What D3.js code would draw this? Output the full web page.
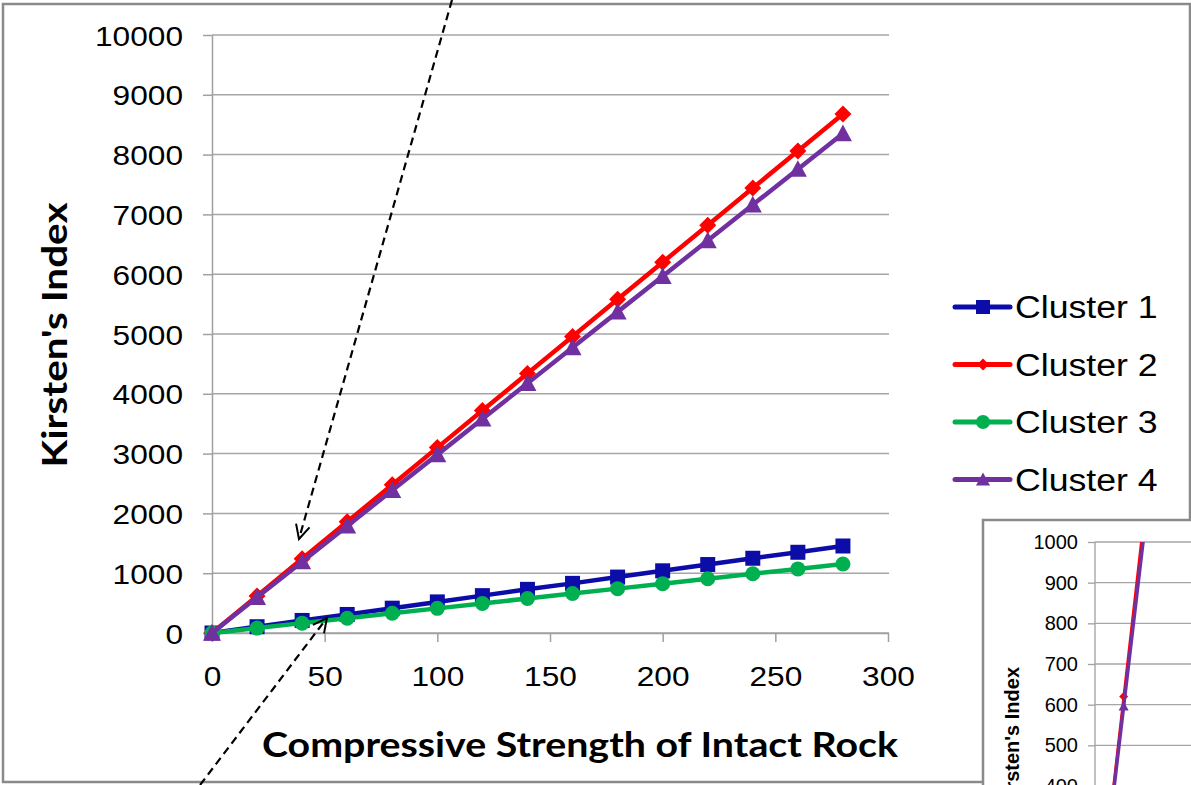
<!DOCTYPE html>
<html>
<head>
<meta charset="utf-8">
<script src="https://cdn.jsdelivr.net/npm/d3@7"></script>
<style>
  body { margin: 0; background: #fff; }
  svg { display: block; }
</style>
</head>
<body>
<div class="chart"></div>
<script>
// data
const strength = [0, 20, 40, 60, 80, 100, 120, 140, 160, 180, 200, 220, 240, 260, 280]
const cluster1 = [0, 105, 210, 310, 415, 520, 625, 730, 830, 935, 1040, 1145, 1250, 1350, 1455]
const cluster2 = [0, 620, 1240, 1860, 2480, 3100, 3720, 4340, 4960, 5580, 6200, 6820, 7440, 8060, 8680]
const cluster3 = [0, 82, 165, 247, 330, 412, 495, 577, 660, 742, 825, 907, 990, 1072, 1155]
const cluster4 = [0, 596, 1193, 1790, 2386, 2983, 3580, 4176, 4773, 5370, 5966, 6563, 7160, 7756, 8353]
const seriesNames = ["Cluster 1", "Cluster 2", "Cluster 3", "Cluster 4"]
const xTicks = [0, 50, 100, 150, 200, 250, 300]
const yTicks = [0, 1000, 2000, 3000, 4000, 5000, 6000, 7000, 8000, 9000, 10000]
const insetTicks = [400, 500, 600, 700, 800, 900, 1000]
// dashed arrows, in chart units: [tail, tip]
const arrows = [
    [[106.5, 10585], [38.6, 1572]],
    [[-5.3, -2542], [51, 251]]
]

const colors = ["#0c0ca8", "#ff0000", "#00b050", "#7030a0"]
const shapes = ["square", "diamond", "circle", "triangle"]
const allValues = [cluster1, cluster2, cluster3, cluster4]

const series = seriesNames.map((name, i) => ({
    name: name,
    color: colors[i],
    shape: shapes[i],
    values: strength.map((x, j) => ({x: x, y: allValues[i][j]}))
}))

const width = 1191, height = 785
const font = "'Liberation Sans', Arial, sans-serif"

let svg = d3.select(".chart").append("svg")
    .attr("width", width)
    .attr("height", height)

// stretch text a little wider, the original is squeezed horizontally
function stretch(sel, k) {
    sel.each(function () {
        const w = this.getComputedTextLength()
        d3.select(this).attr("textLength", w * k).attr("lengthAdjust", "spacingAndGlyphs")
    })
}

function markerPath(shape, s) {
    if (shape == "square") return `M${-s},${-s}h${2 * s}v${2 * s}h${-2 * s}Z`
    if (shape == "diamond") return `M0,${-s}L${s},0L0,${s}L${-s},0Z`
    if (shape == "triangle") return `M0,${-s}L${s},${s * 0.85}L${-s},${s * 0.85}Z`
    return `M${-s},0a${s},${s} 0 1,0 ${2 * s},0a${s},${s} 0 1,0 ${-2 * s},0`
}

// outer frame
svg.append("rect")
    .attr("x", 3).attr("y", 4)
    .attr("width", 1187).attr("height", 778)
    .attr("fill", "#fff")
    .attr("stroke", "#8a8a8a")
    .attr("stroke-width", 2.5)

const xScale = d3.scaleLinear().domain([0, 300]).range([212, 888])
const yScale = d3.scaleLinear().domain([0, 10000]).range([633, 35])

// gridlines
svg.append("g")
    .selectAll("line")
    .data(yTicks)
    .join("line")
    .attr("x1", xScale(0)).attr("x2", xScale(300) + 1)
    .attr("y1", d => yScale(d)).attr("y2", d => yScale(d))
    .attr("stroke", "#a6a6a6")
    .attr("stroke-width", 1.5)

let yAxis = d3.axisLeft(yScale).tickValues(yTicks).tickFormat(d3.format("d"))
    .tickSize(9).tickPadding(20).tickSizeOuter(0)
let xAxis = d3.axisBottom(xScale).tickValues(xTicks).tickFormat(d3.format("d"))
    .tickSize(9).tickPadding(24).tickSizeOuter(0)

const gy = svg.append("g").attr("transform", `translate(${xScale(0)},0)`).call(yAxis)
const gx = svg.append("g").attr("transform", `translate(0,${yScale(0)})`).call(xAxis)

;[gx, gy].forEach(g => {
    g.selectAll("path, line").attr("stroke", "#a0a0a0").attr("stroke-width", 1.5)
    g.selectAll("text")
        .attr("font-family", font)
        .attr("font-size", 28)
        .attr("fill", "#000")
    stretch(g.selectAll("text"), 1.13)
})
gy.selectAll("text").attr("dy", "0.36em")

// series
const line = d3.line().x(d => xScale(d.x)).y(d => yScale(d.y))
const msize = {square: 7.5, diamond: 8.5, circle: 7.5, triangle: 9}

series.forEach(s => {
    const g = svg.append("g")
    g.append("path")
        .datum(s.values)
        .attr("d", line)
        .attr("fill", "none")
        .attr("stroke", s.color)
        .attr("stroke-width", 4.5)
        .attr("stroke-linejoin", "round")
    g.selectAll(".pt")
        .data(s.values)
        .join("path")
        .attr("class", "pt")
        .attr("transform", d => `translate(${xScale(d.x)},${yScale(d.y)})`)
        .attr("d", markerPath(s.shape, msize[s.shape]))
        .attr("fill", s.color)
})

// axis titles
svg.append("text")
    .attr("transform", "translate(67,335) rotate(-90)")
    .attr("text-anchor", "middle")
    .attr("font-family", "Lato, 'Open Sans', sans-serif")
    .attr("font-weight", 700)
    .attr("font-size", 35)
    .attr("textLength", 265)
    .attr("lengthAdjust", "spacingAndGlyphs")
    .text("Kirsten's Index")

svg.append("text")
    .attr("x", 580).attr("y", 757)
    .attr("text-anchor", "middle")
    .attr("font-family", "Lato, 'Open Sans', sans-serif")
    .attr("font-weight", 700)
    .attr("font-size", 35)
    .attr("textLength", 636)
    .attr("lengthAdjust", "spacingAndGlyphs")
    .text("Compressive Strength of Intact Rock")

// legend
const legend = svg.append("g")
    .selectAll("g")
    .data(series)
    .join("g")
    .attr("transform", (d, i) => `translate(955,${307 + i * 57.5})`)

legend.append("line")
    .attr("x1", 0).attr("x2", 55)
    .attr("stroke", d => d.color)
    .attr("stroke-width", 5)
    .attr("stroke-linecap", "round")
legend.append("path")
    .attr("transform", "translate(28,0)")
    .attr("d", d => markerPath(d.shape, d.shape == "diamond" ? 6 : 7))
    .attr("fill", d => d.color)
const ltext = legend.append("text")
    .attr("x", 60).attr("y", 11)
    .attr("font-family", font)
    .attr("font-size", 31)
    .text(d => d.name)
stretch(ltext, 1.15)

// dashed arrows
svg.append("defs").append("marker")
    .attr("id", "head")
    .attr("markerUnits", "userSpaceOnUse")
    .attr("viewBox", "-16 -10 20 20")
    .attr("markerWidth", 20).attr("markerHeight", 20)
    .attr("refX", 0).attr("refY", 0)
    .attr("orient", "auto")
    .append("path")
    .attr("d", "M-14,-7L0,0L-14,7")
    .attr("fill", "none")
    .attr("stroke", "#000")
    .attr("stroke-width", 2)

svg.append("g")
    .selectAll("line")
    .data(arrows)
    .join("line")
    .attr("x1", d => xScale(d[0][0])).attr("y1", d => yScale(d[0][1]))
    .attr("x2", d => xScale(d[1][0])).attr("y2", d => yScale(d[1][1]))
    .attr("stroke", "#000")
    .attr("stroke-width", 2.2)
    .attr("stroke-dasharray", "8,5")
    .attr("marker-end", "url(#head)")

// zoomed inset, bottom right
const inset = svg.append("g")
inset.append("rect")
    .attr("x", 983).attr("y", 520)
    .attr("width", 240).attr("height", 300)
    .attr("fill", "#fff")
    .attr("stroke", "#8a8a8a")
    .attr("stroke-width", 2.5)

const ix = d3.scaleLinear().domain([0, 67]).range([1095, 1191])
const iy = d3.scaleLinear().domain([400, 1000]).range([786, 542])

inset.append("g")
    .selectAll("line")
    .data(insetTicks)
    .join("line")
    .attr("x1", ix(0)).attr("x2", 1200)
    .attr("y1", d => iy(d)).attr("y2", d => iy(d))
    .attr("stroke", "#a6a6a6")
    .attr("stroke-width", 1.3)

const giy = inset.append("g")
    .attr("transform", `translate(${ix(0)},0)`)
    .call(d3.axisLeft(iy).tickValues(insetTicks).tickFormat(d3.format("d"))
        .tickSize(7).tickPadding(10).tickSizeOuter(0))
giy.select(".domain").attr("d", `M0,${iy(1000)}V800`)
giy.selectAll("path, line").attr("stroke", "#a0a0a0").attr("stroke-width", 1.3)
giy.selectAll("text")
    .attr("font-family", font)
    .attr("font-size", 20)
    .attr("fill", "#000")

inset.append("text")
    .attr("transform", "translate(1019,667) rotate(-90)")
    .attr("text-anchor", "end")
    .attr("font-family", font)
    .attr("font-weight", 700)
    .attr("font-size", 20)
    .text("Kirsten's Index")

svg.select("defs").append("clipPath")
    .attr("id", "insetClip")
    .append("rect")
    .attr("x", ix(0)).attr("y", iy(1000))
    .attr("width", 120).attr("height", 260)

const iline = d3.line().x(d => ix(d.x)).y(d => iy(d.y))
const ig = inset.append("g").attr("clip-path", "url(#insetClip)")
series.forEach(s => {
    ig.append("path")
        .datum(s.values)
        .attr("d", iline)
        .attr("fill", "none")
        .attr("stroke", s.color)
        .attr("stroke-width", s.shape == "triangle" ? 3.5 : 2.5)
    ig.selectAll(null)
        .data(s.values)
        .join("path")
        .attr("transform", d => `translate(${ix(d.x)},${iy(d.y)})`)
        .attr("d", markerPath(s.shape, s.shape == "triangle" ? 5 : 4.5))
        .attr("fill", s.color)
})
</script>
</body>
</html>
